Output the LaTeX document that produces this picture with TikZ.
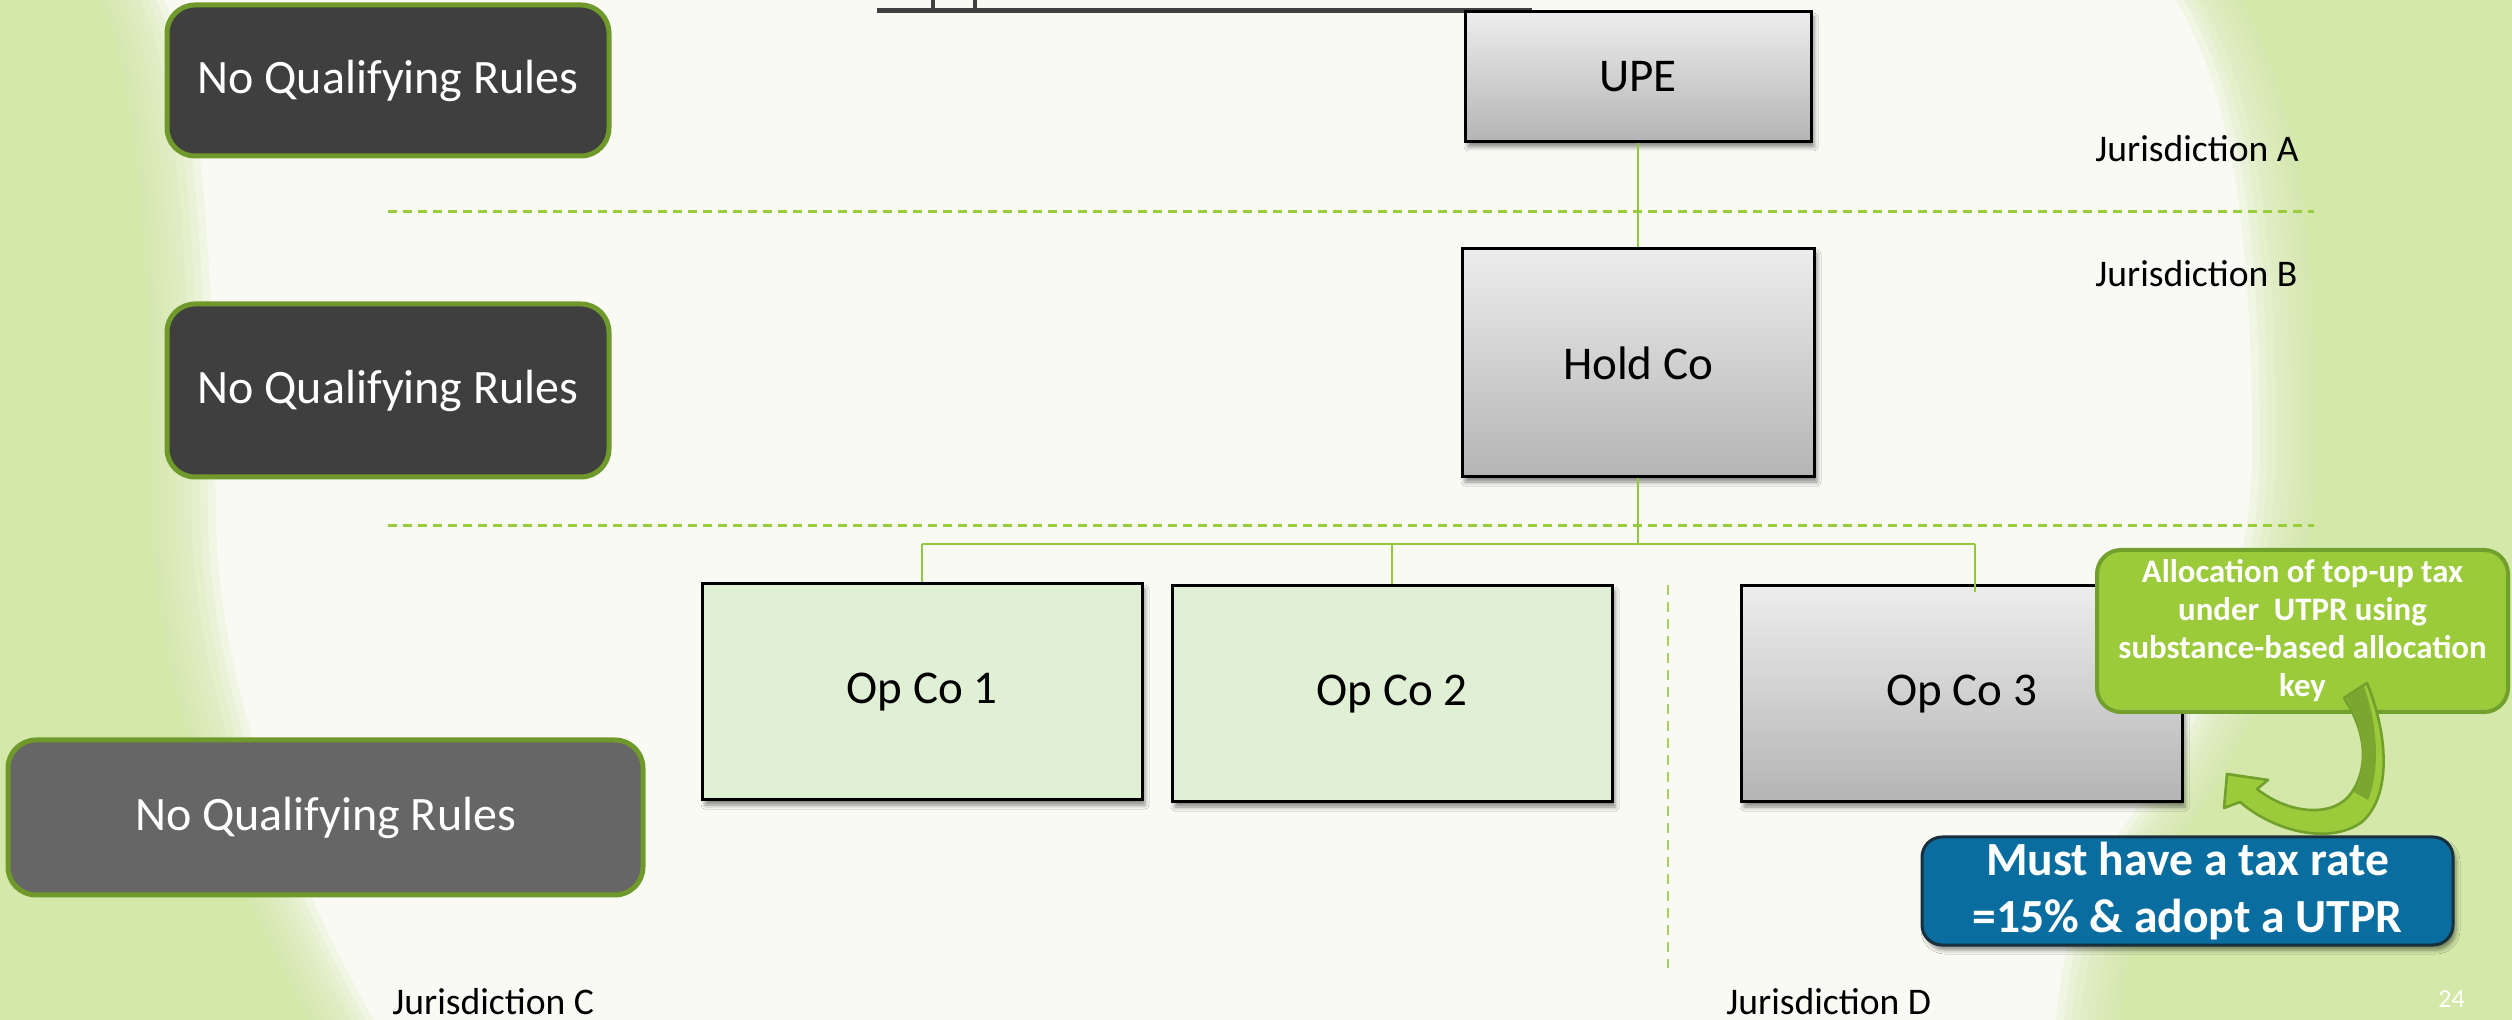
\documentclass[tikz,border=0pt]{standalone}
\usepackage{fontspec}
\setmainfont{Carlito}
\usetikzlibrary{shadows.blur}

\definecolor{cream}{HTML}{F9FAF4}
\definecolor{bggreen}{HTML}{D3E8A9}
\definecolor{nqrdark}{HTML}{3F3F3F}
\definecolor{nqrmid}{HTML}{666666}
\definecolor{nqredge}{HTML}{6F9A2B}
\definecolor{linkgreen}{HTML}{92C83E}
\definecolor{dashgreen}{HTML}{9ACD3C}
\definecolor{vdashgreen}{HTML}{A8D160}
\definecolor{opfill}{HTML}{DFF0D4}
\definecolor{grayTop}{HTML}{EDEDED}
\definecolor{grayBot}{HTML}{B4B4B4}
\definecolor{calloutfill}{HTML}{9BCB3B}
\definecolor{calloutedge}{HTML}{72A02C}
\definecolor{arrowdark}{HTML}{7BA630}
\definecolor{bluefill}{HTML}{0A6DA0}
\definecolor{blueedge}{HTML}{18303E}
\definecolor{headline}{HTML}{404040}

\begin{document}
\begin{tikzpicture}[x=0.5pt,y=-0.5pt,
  entity/.style={draw=black, line width=1.5pt, inner sep=0pt,
    font=\fontsize{23.5}{28}\selectfont,
    blur shadow={shadow xshift=1.5pt, shadow yshift=-2.5pt,
      shadow blur radius=2pt, shadow opacity=45}},
  grayent/.style={entity, top color=grayTop, bottom color=grayBot},
  greenent/.style={entity, fill=opfill},
  nqr/.style={draw=nqredge, line width=2.5pt, rounded corners=14pt,
    inner sep=0pt, text=white, font=\fontsize{24}{28}\selectfont},
  jlabel/.style={font=\fontsize{18.8}{22}\selectfont, inner sep=0pt, text=black},
  border/.style={dashgreen, line width=1.5pt, dash pattern=on 4.5pt off 3pt},
  vborder/.style={vdashgreen, line width=1pt, dash pattern=on 5pt off 3.5pt},
  link/.style={linkgreen, line width=1.2pt},
]
\useasboundingbox (0,0) rectangle (2512,1020);

% slide background with soft green side bands
\fill[cream] (0,0) rectangle (2512,1020);
\foreach \dd in {8,7,...,1} {
  \begin{scope}[xshift=\dd*4pt]
    \fill[bggreen, opacity=0.22] (0,0) -- (100,0) .. controls (150,100) and (150,400) .. (152,520)
      .. controls (155,700) and (240,900) .. (310,1020) -- (0,1020) -- cycle;
  \end{scope}
  \begin{scope}[xshift=-\dd*4pt]
    \fill[bggreen, opacity=0.22] (2512,0) -- (2240,0) .. controls (2300,100) and (2316,250) .. (2316,450)
      .. controls (2316,600) and (2250,750) .. (2170,850) .. controls (2140,900) and (2125,960) .. (2120,1020)
      -- (2512,1020) -- cycle;
  \end{scope}
}
\fill[bggreen] (0,0) -- (100,0) .. controls (150,100) and (150,400) .. (152,520)
  .. controls (155,700) and (240,900) .. (310,1020) -- (0,1020) -- cycle;
\fill[bggreen] (2512,0) -- (2240,0) .. controls (2300,100) and (2316,250) .. (2316,450)
  .. controls (2316,600) and (2250,750) .. (2170,850) .. controls (2140,900) and (2125,960) .. (2120,1020)
  -- (2512,1020) -- cycle;

% title rule at the top edge
\draw[headline, line width=2.5pt] (877,10.5) -- (1532,10.5);
\draw[headline, line width=2pt] (933,0) -- (933,9);
\draw[headline, line width=2pt] (975,0) -- (975,9);

% jurisdiction borders
\draw[border] (388,212) -- (2314,212);
\draw[border] (388,526) -- (2314,526);
\draw[vborder] (1668,585) -- (1668,968);

% status boxes on the left
\node[nqr, fill=nqrdark, minimum width=221pt, minimum height=75.5pt] (nqrA) at (388,80.5) {No Qualifying Rules};
\node[nqr, fill=nqrdark, minimum width=221pt, minimum height=86.5pt] (nqrB) at (388,390.5) {No Qualifying Rules};
\node[nqr, fill=nqrmid, minimum width=317.5pt, minimum height=77.5pt] (nqrC) at (325.5,817.5) {No Qualifying Rules};

% group entities
\node[grayent, minimum width=173pt, minimum height=65pt] (upe) at (1638,77) {UPE};
\node[grayent, minimum width=176pt, minimum height=114pt] (hold) at (1638,363) {Hold Co};
\node[greenent, minimum width=220pt, minimum height=108pt] (op1) at (922,692) {Op Co 1};
\node[greenent, minimum width=220pt, minimum height=108pt] (op2) at (1392,694) {Op Co 2};
\node[grayent, minimum width=220.5pt, minimum height=108pt] (op3) at (1961.5,694) {Op Co 3};

% ownership links
\coordinate (busL) at (922,544);
\coordinate (busR) at (1975,544);
\draw[link] (upe.south) -- (hold.north);
\draw[link] (hold.south) -- (hold.south |- busL);
\draw[link] (busL) -- (busR);
\draw[link] (busL) -- (op1.north);
\draw[link] (op2.north |- busL) -- (op2.north);
\draw[link] (busR) -- ([yshift=-4pt]busR |- op3.north);

% jurisdiction names
\node[jlabel, anchor=base west] (jA) at (2095,162) {Jurisdiction A};
\node[jlabel, anchor=base west] (jB) at (2095,287) {Jurisdiction B};
\node[jlabel, anchor=base west] (jC) at (392,1014) {Jurisdiction C};
\node[jlabel, anchor=base west] (jD) at (1726,1014) {Jurisdiction D};

% callout on allocation
\node[draw=calloutedge, fill=calloutfill, line width=2pt, rounded corners=12pt,
  minimum width=205.5pt, minimum height=81pt, inner sep=0pt, align=center,
  text=white, font=\bfseries\fontsize{16.4}{19}\selectfont] (callout) at (2302.5,631)
  {Allocation of top-up tax\\under\ \ UTPR using\\substance-based allocation\\key};

% requirement box
\node[draw=blueedge, fill=bluefill, line width=1.5pt, rounded corners=10pt,
  minimum width=265.5pt, minimum height=54pt, inner sep=0pt, align=center,
  text=white, font=\bfseries\fontsize{23.8}{28.5}\selectfont,
  blur shadow={shadow xshift=1.5pt, shadow yshift=-2.5pt, shadow blur radius=2pt, shadow opacity=45}]
  (req) at (2187.5,891) {Must have a tax rate\\=15\% \& adopt a UTPR};

% curved block arrow from the callout
\filldraw[fill=calloutfill, draw=calloutedge, line width=1.3pt, line join=round]
  (2344,698) -- (2367,683) .. controls (2388,735) and (2392,795) .. (2362,822)
  .. controls (2330,845) and (2275,832) .. (2240,802)
  -- (2224,808) -- (2227,774) -- (2268,780) -- (2257,789)
  .. controls (2290,815) and (2335,818) .. (2352,792)
  .. controls (2370,765) and (2365,730) .. (2344,698) -- cycle;
\fill[arrowdark] (2346,697) -- (2364,687) .. controls (2378,725) and (2380,770) .. (2368,800)
  -- (2354,792) .. controls (2368,765) and (2364,730) .. (2346,697) -- cycle;

% page number
\node[anchor=base west, inner sep=0pt, text=white, font=\fontsize{13}{15}\selectfont] (pnum) at (2438,1007) {24};
\end{tikzpicture}
\end{document}
